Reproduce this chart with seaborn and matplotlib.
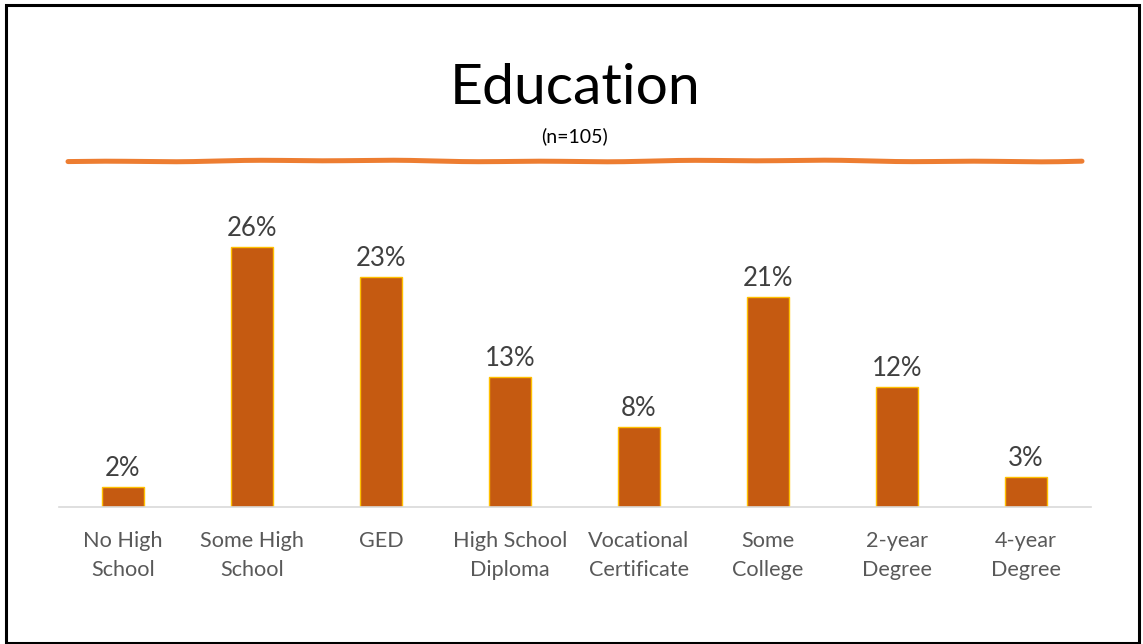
import numpy as np
import pandas as pd
import seaborn as sns
from matplotlib import pyplot as plt
from matplotlib.patches import Rectangle
from matplotlib.lines import Line2D

# data
categories = ['No High\nSchool', 'Some High\nSchool', 'GED', 'High School\nDiploma',
              'Vocational\nCertificate', 'Some\nCollege', '2-year\nDegree', '4-year\nDegree']
percents = [2, 26, 23, 13, 8, 21, 12, 3]

df = pd.DataFrame({'Education': categories, 'Percent': percents})

sns.set_style("white")
plt.rcParams['font.family'] = ['Lato', 'DejaVu Sans']

fig = plt.figure(figsize=(11.43, 6.44), dpi=100)
ax = fig.add_axes([58.5 / 1143, 137 / 644, 1032 / 1143, 300 / 644])

sns.barplot(data=df, x='Education', y='Percent', color='#C55A11', width=0.325,
            edgecolor='#FFC000', linewidth=1.0, saturation=1, ax=ax)

ax.set_xlim(-0.5, len(categories) - 0.5)
ax.set_ylim(0, 30)

# value labels above the bars
for i, v in enumerate(percents):
    ax.annotate(f'{v}%', (i, v), xytext=(0, 4), textcoords='offset points',
                ha='center', va='bottom', fontsize=18.5, color='#404040')

ax.set_xlabel('')
ax.set_ylabel('')
ax.set_yticks([])
ax.tick_params(axis='x', length=0, pad=17, labelsize=15.6, labelcolor='#595959')
for lbl in ax.get_xticklabels():
    lbl.set_linespacing(1.6)
    lbl.set_verticalalignment('top')

sns.despine(ax=ax, left=True)
ax.spines['bottom'].set_color('#D9D9D9')
ax.spines['bottom'].set_linewidth(1.2)

# title and subtitle
fig.text(0.503, 1 - 89 / 644, 'Education', ha='center', va='center', fontsize=41, color='black')
fig.text(0.503, 1 - 136 / 644, '(n=105)', ha='center', va='center', fontsize=14, color='black')

# decorative orange rule under the title, slightly hand-drawn
xs = np.linspace(68, 1082, 300)
ys = 161 + 0.6 * np.sin(xs / 70.0) + 0.4 * np.sin(xs / 23.0)
fig.add_artist(Line2D(xs / 1143, 1 - ys / 644, color='#ED7D31', linewidth=3.6,
                      solid_capstyle='round'))

# slide border
fig.add_artist(Rectangle((5.5 / 1143, 1 / 644), 1133.5 / 1143, 638.5 / 644, fill=False,
                         edgecolor='black', linewidth=2.2))

plt.savefig('out.png', dpi=100)
